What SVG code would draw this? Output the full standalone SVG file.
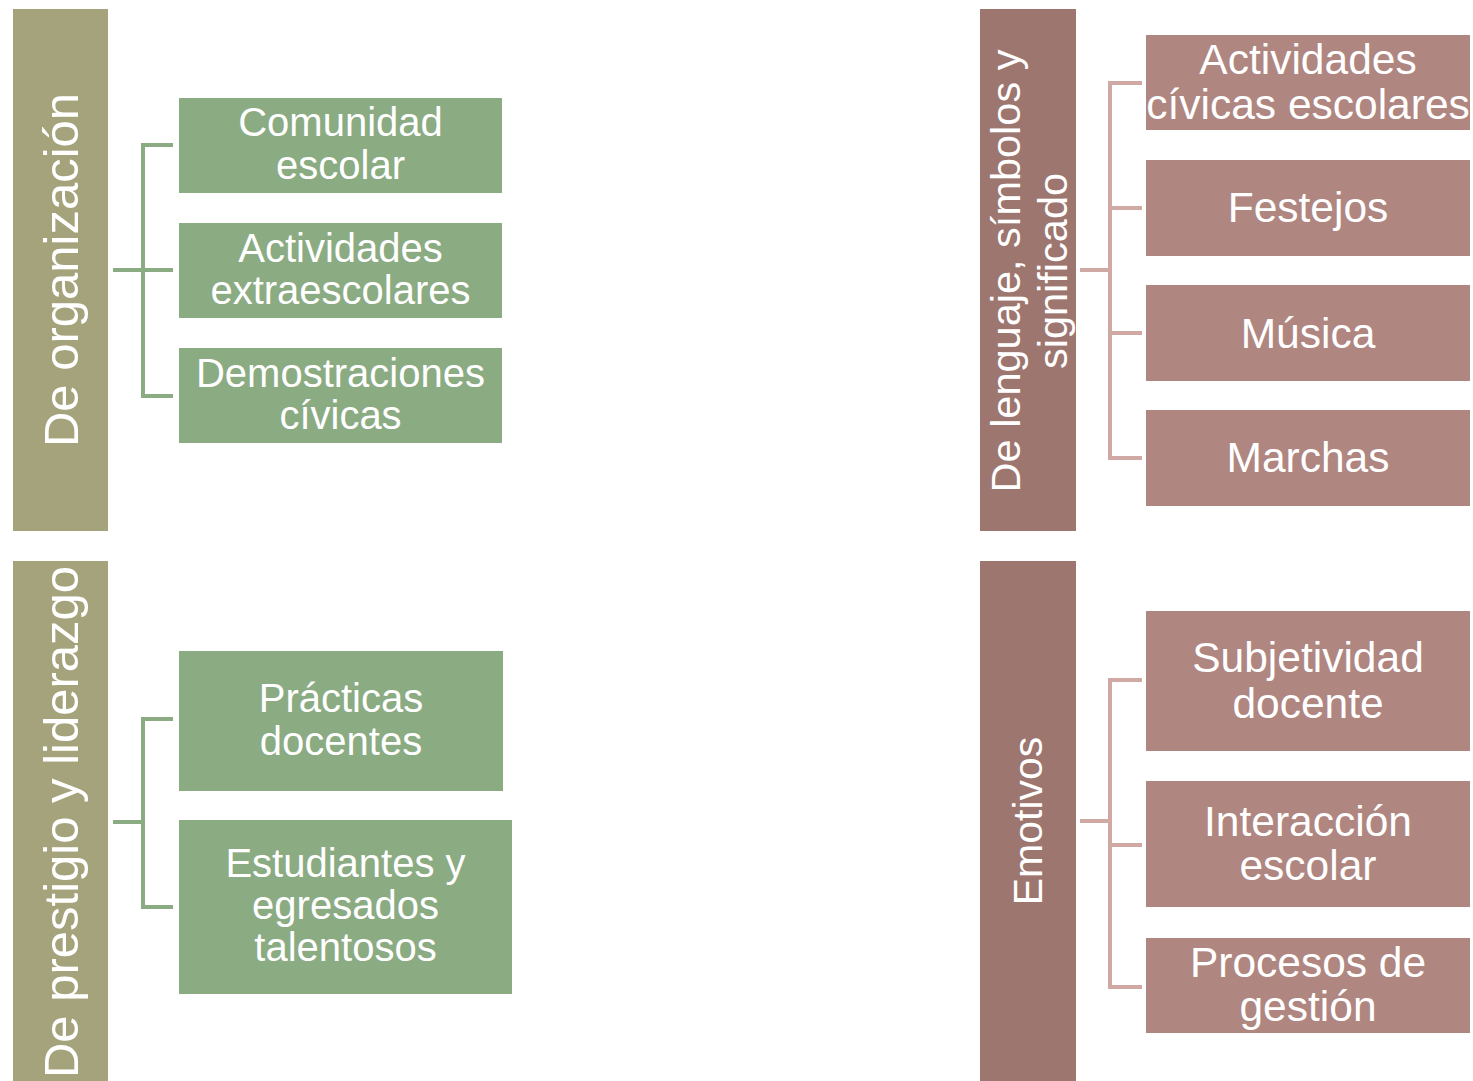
<svg xmlns="http://www.w3.org/2000/svg" width="1473" height="1081" viewBox="0 0 1473 1081">
<style>
text{font-family:"Liberation Sans",Arial,sans-serif;fill:#fff;text-anchor:middle}
.bg{fill:#a5a37c}
.bp{fill:#9d7670}
.g{fill:#8bab83}
.p{fill:#b08681}
.cg{fill:none;stroke:#8bab83;stroke-width:4}
.cp{fill:none;stroke:#d0a9a4;stroke-width:4}
.tl{font-size:40px}
.tr{font-size:42.5px}
</style>
<rect width="1473" height="1081" fill="#fff"/>
<g id="connectors">
<path class="cg" d="M113 270H143M173 145H143V396H173M143 270H173"/>
<path class="cg" d="M113 822H143M173 719H143V907H173"/>
<path class="cp" d="M1080 270H1110M1142 83H1110V458H1142M1110 208H1142M1110 333H1142"/>
<path class="cp" d="M1080 821H1110M1142 680H1110V987H1142M1110 845H1142"/>
</g>
<g id="org">
<rect class="bg" x="13" y="9" width="95" height="522"/>
<text transform="translate(78,270) rotate(-90)" style="font-size:49px">De organización</text>
</g>
<g id="comunidad">
<rect class="g" x="179" y="98" width="323" height="95"/>
<text class="tl" x="340.5" y="136">Comunidad</text>
<text class="tl" x="340.5" y="179">escolar</text>
</g>
<g id="extraescolares">
<rect class="g" x="179" y="223" width="323" height="95"/>
<text class="tl" x="340.5" y="262">Actividades</text>
<text class="tl" x="340.5" y="304">extraescolares</text>
</g>
<g id="demostraciones">
<rect class="g" x="179" y="348" width="323" height="95"/>
<text class="tl" x="340.5" y="387">Demostraciones</text>
<text class="tl" x="340.5" y="429">cívicas</text>
</g>
<g id="prestigio">
<rect class="bg" x="13" y="561" width="95" height="520"/>
<text transform="translate(78,822) rotate(-90)" style="font-size:49px">De prestigio y liderazgo</text>
</g>
<g id="practicas">
<rect class="g" x="179" y="651" width="324" height="140"/>
<text class="tl" x="341" y="712">Prácticas</text>
<text class="tl" x="341" y="755">docentes</text>
</g>
<g id="estudiantes">
<rect class="g" x="179" y="820" width="333" height="174"/>
<text class="tl" x="345.5" y="877">Estudiantes y</text>
<text class="tl" x="345.5" y="919">egresados</text>
<text class="tl" x="345.5" y="961">talentosos</text>
</g>
<g id="lenguaje">
<rect class="bp" x="980" y="9" width="96" height="522"/>
<text transform="translate(1020,271) rotate(-90)" style="font-size:41.5px"><tspan x="0" y="0">De lenguaje, símbolos y</tspan><tspan x="0" y="47">significado</tspan></text>
</g>
<g id="civicas">
<rect class="p" x="1146" y="35" width="324" height="95"/>
<text class="tr" x="1308" y="74">Actividades</text>
<text class="tr" x="1308" y="119">cívicas escolares</text>
</g>
<g id="festejos">
<rect class="p" x="1146" y="160" width="324" height="96"/>
<text class="tr" x="1308" y="222">Festejos</text>
</g>
<g id="musica">
<rect class="p" x="1146" y="285" width="324" height="96"/>
<text class="tr" x="1308" y="348">Música</text>
</g>
<g id="marchas">
<rect class="p" x="1146" y="410" width="324" height="96"/>
<text class="tr" x="1308" y="472">Marchas</text>
</g>
<g id="emotivos">
<rect class="bp" x="980" y="561" width="96" height="520"/>
<text transform="translate(1042,821) rotate(-90)" style="font-size:41px">Emotivos</text>
</g>
<g id="subjetividad">
<rect class="p" x="1146" y="611" width="324" height="140"/>
<text class="tr" x="1308" y="672">Subjetividad</text>
<text class="tr" x="1308" y="718">docente</text>
</g>
<g id="interaccion">
<rect class="p" x="1146" y="781" width="324" height="126"/>
<text class="tr" x="1308" y="836">Interacción</text>
<text class="tr" x="1308" y="880">escolar</text>
</g>
<g id="procesos">
<rect class="p" x="1146" y="938" width="324" height="95"/>
<text class="tr" x="1308" y="977">Procesos de</text>
<text class="tr" x="1308" y="1021">gestión</text>
</g>
</svg>
